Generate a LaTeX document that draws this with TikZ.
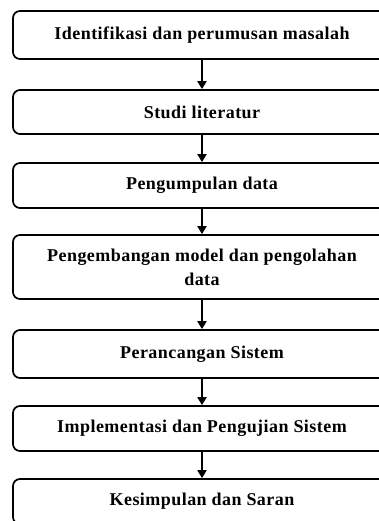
\documentclass[tikz,border=0pt]{standalone}
\usepackage{fontspec}
\setmainfont{Liberation Serif}
\newfontfamily\stepfont[LetterSpace=2.5]{Liberation Serif}
\usetikzlibrary{arrows.meta}
\begin{document}
\begin{tikzpicture}[x=1pt,y=-1pt,
  stepbox/.style={draw=black, line width=1.7pt, rounded corners=7pt,
    minimum width=378pt, inner sep=0pt, align=center,
    font=\stepfont\fontsize{18}{24}\selectfont\bfseries},
  flow/.style={line width=1.9pt, -{Triangle[width=9pt,length=8pt]}}]
\useasboundingbox (0,0) rectangle (379,521);
\clip (0,0) rectangle (379,521);
\node[stepbox, minimum height=48pt] (b1) at (202,35) {Identifikasi dan perumusan masalah};
\node[stepbox, minimum height=44pt] (b2) at (202,112) {Studi literatur};
\node[stepbox, minimum height=45pt] (b3) at (202,185.5) {Pengumpulan data};
\node[stepbox, minimum height=64pt] (b4) at (202,267) {Pengembangan model dan pengolahan\\data};
\node[stepbox, minimum height=48pt] (b5) at (202,354) {Perancangan Sistem};
\node[stepbox, minimum height=45pt] (b6) at (202,428.5) {Implementasi dan Pengujian Sistem};
\node[stepbox, minimum height=45pt] (b7) at (202,501.5) {Kesimpulan dan Saran};
\draw[flow] (b1.south) -- (b2.north);
\draw[flow] (b2.south) -- (b3.north);
\draw[flow] (b3.south) -- (b4.north);
\draw[flow] (b4.south) -- (b5.north);
\draw[flow] (b5.south) -- (b6.north);
\draw[flow] (b6.south) -- (b7.north);
\end{tikzpicture}
\end{document}
